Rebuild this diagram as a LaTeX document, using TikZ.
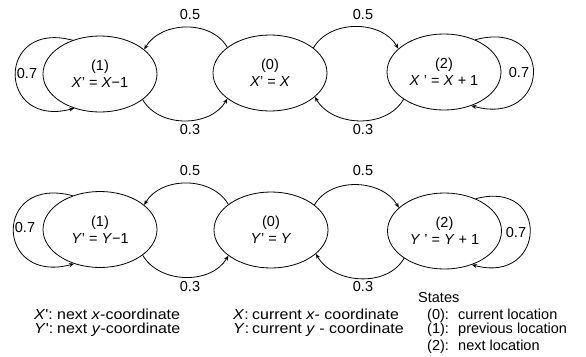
\documentclass[tikz,border=0pt]{standalone}
\usepackage{fontspec}
\setmainfont{Liberation Sans}
\newfontfamily\legfont[FakeStretch=1.1]{Liberation Sans}
\usetikzlibrary{arrows.meta,shapes.geometric}
\begin{document}
\begin{tikzpicture}[x=1pt,y=1pt,
  every node/.style={font=\fontsize{14.5}{17}\selectfont},
  st/.style={draw, ellipse, line width=0.8pt, minimum width=114pt, minimum height=76pt, inner sep=0pt, align=center},
  arr/.style={line width=0.8pt, -{Stealth[length=5pt,width=4pt]}},
  lab/.style={inner sep=0pt},
  leg/.style={anchor=base west, inner sep=0pt},
  legbig/.style={leg, font=\legfont\fontsize{14.5}{17}\selectfont}]
\useasboundingbox (0,0) rectangle (586,-356);
% top row
\node[st] (A1) at (100,-74) {(1)\\\textit{X}' = \textit{X}−1};
\node[st] (A0) at (270,-73) {(0)\\\textit{X}' = \textit{X}};
\node[st] (A2) at (444,-72) {(2)\\\textit{X} ' = \textit{X} + 1};
\draw[arr] (A0.149) to[out=120,in=60] (A1.29);
\draw[arr] (A1.-31) to[out=-60,in=-120] (A0.211);
\draw[arr] (A0.30) to[out=60,in=120] (A2.153);
\draw[arr] (A2.214) to[out=-120,in=-60] (A0.-28);
\draw[arr] (A1.129) to[out=165,in=195,looseness=3] (A1.233);
\draw[arr] (A2.46) to[out=15,in=-15,looseness=3.2] (A2.-51);
\node[lab] (a05l) at (190,-15) {0.5};
\node[lab] (a03l) at (190,-130) {0.3};
\node[lab] (a05r) at (363,-15) {0.5};
\node[lab] (a03r) at (363,-130) {0.3};
\node[lab] (a07l) at (27,-74) {0.7};
\node[lab] (a07r) at (519,-73) {0.7};
% bottom row
\node[st] (B1) at (100,-229.5) {(1)\\\textit{Y}' = \textit{Y}−1};
\node[st] (B0) at (271,-230) {(0)\\\textit{Y}' = \textit{Y}};
\node[st] (B2) at (444.5,-231) {(2)\\\textit{Y} ' = \textit{Y} + 1};
\draw[arr] (B0.149) to[out=120,in=60] (B1.29);
\draw[arr] (B1.-31) to[out=-60,in=-120] (B0.211);
\draw[arr] (B0.30) to[out=60,in=120] (B2.153);
\draw[arr] (B2.214) to[out=-120,in=-60] (B0.-28);
\draw[arr] (B1.129) to[out=165,in=195,looseness=3.1] (B1.233);
\draw[arr] (B2.46) to[out=15,in=-15,looseness=3] (B2.-51);
\node[lab] (b05l) at (190,-171) {0.5};
\node[lab] (b03l) at (190,-287) {0.3};
\node[lab] (b05r) at (363,-171) {0.5};
\node[lab] (b03r) at (363,-287) {0.3};
\node[lab] (b07l) at (25,-228) {0.7};
\node[lab] (b07r) at (516,-233) {0.7};
% legend
\node[legbig] (g1) at (34,-319) {\makebox[23pt][l]{\textit{X}':}next \textit{x}-coordinate};
\node[legbig] (g2) at (34,-333) {\makebox[23pt][l]{\textit{Y}':}next \textit{y}-coordinate};
\node[legbig] (g3) at (233,-319) {\makebox[19pt][l]{\textit{X}:}current \textit{x}- coordinate};
\node[legbig] (g4) at (233,-333) {\makebox[19pt][l]{\textit{Y}:}current \textit{y} - coordinate};
\node[leg] (s0) at (418,-302) {States};
\node[leg] (s1) at (427,-319) {\makebox[31pt][l]{(0):}current location};
\node[leg] (s2) at (427,-333) {\makebox[31pt][l]{(1):}previous location};
\node[leg] (s3) at (427,-350) {\makebox[31pt][l]{(2):}next location};
\end{tikzpicture}
\end{document}
